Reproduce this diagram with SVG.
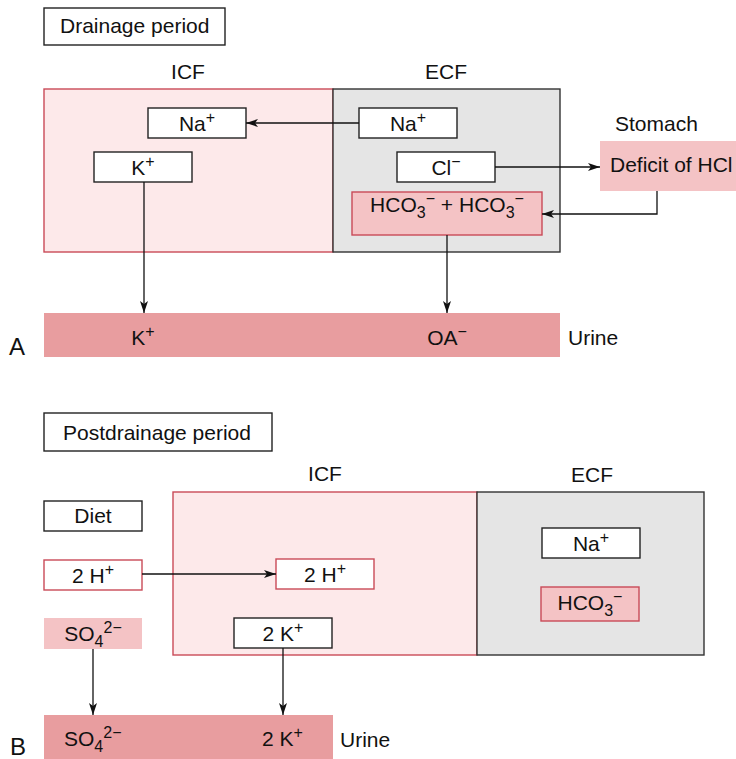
<svg xmlns="http://www.w3.org/2000/svg" width="736" height="759" viewBox="0 0 736 759">
<defs>
<style>
text{font-family:"Liberation Sans",Arial,Helvetica,sans-serif;font-size:21px;fill:#111}
.c{text-anchor:middle}
.big{font-size:24px}
.wb{fill:#fff;stroke:#222;stroke-width:1.4}
.rb{fill:#fff;stroke:#c94a58;stroke-width:1.4}
.pb{fill:#f4c3c5;stroke:#c94a58;stroke-width:1.4}
.pn{fill:#f4c3c5;stroke:none}
.icf{fill:#fde9ea;stroke:#c94a58;stroke-width:1.4}
.ecf{fill:#e5e5e5;stroke:#333;stroke-width:1.4}
.urine{fill:#e89d9f}
.ln{fill:none;stroke:#111;stroke-width:1.3;marker-end:url(#ah)}
.sp{font-size:16px}
</style>
<marker id="ah" markerUnits="userSpaceOnUse" markerWidth="13" markerHeight="9" refX="12" refY="4" orient="auto">
<path d="M0,0 L12,4 L0,8 L3,4 z" fill="#111"/>
</marker>
</defs>

<!-- Panel A -->
<g id="titleA"><rect class="wb" x="44" y="8" width="181" height="37"/><text x="60" y="33">Drainage period</text></g>
<g id="icfA"><rect class="icf" x="44" y="89" width="289" height="163"/><text class="c" x="188" y="79">ICF</text></g>
<g id="ecfA"><rect class="ecf" x="333" y="89" width="227" height="163"/><text class="c" x="446" y="79">ECF</text></g>
<g id="naIcfA"><rect class="wb" x="148" y="108" width="98" height="30"/><text class="c" x="197" y="131">Na<tspan class="sp" dy="-8">+</tspan></text></g>
<g id="kIcfA"><rect class="wb" x="94" y="152" width="98" height="30"/><text class="c" x="143" y="175">K<tspan class="sp" dy="-8">+</tspan></text></g>
<g id="naEcfA"><rect class="wb" x="359" y="108" width="98" height="30"/><text class="c" x="408" y="131">Na<tspan class="sp" dy="-8">+</tspan></text></g>
<g id="clEcfA"><rect class="wb" x="397" y="152" width="98" height="30"/><text class="c" x="446" y="175">Cl<tspan class="sp" dy="-8">−</tspan></text></g>
<g id="hco3A"><rect class="pb" x="352" y="192" width="190" height="43"/><text class="c" x="447" y="212">HCO<tspan class="sp" dy="6">3</tspan><tspan class="sp" dy="-14">−</tspan><tspan dy="8"> + HCO</tspan><tspan class="sp" dy="6">3</tspan><tspan class="sp" dy="-14">−</tspan></text></g>
<g id="stomach"><text x="615" y="131">Stomach</text><rect class="pn" x="600" y="141" width="136" height="50"/><text x="610" y="172">Deficit of HCl</text></g>
<g id="urineA"><rect class="urine" x="44" y="313" width="516" height="44"/><text class="c" x="143" y="345">K<tspan class="sp" dy="-8">+</tspan></text><text class="c" x="447" y="345">OA<tspan class="sp" dy="-8">−</tspan></text><text x="568" y="345">Urine</text></g>
<g id="labelA"><text class="big" x="9" y="355">A</text></g>

<!-- Panel B -->
<g id="titleB"><rect class="wb" x="44" y="413" width="228" height="38"/><text x="63" y="440">Postdrainage period</text></g>
<g id="icfB"><rect class="icf" x="173" y="492" width="304" height="163"/><text class="c" x="325" y="481">ICF</text></g>
<g id="ecfB"><rect class="ecf" x="477" y="492" width="227" height="163"/><text class="c" x="592" y="482">ECF</text></g>
<g id="diet"><rect class="wb" x="44" y="501" width="98" height="30"/><text class="c" x="93" y="523">Diet</text></g>
<g id="hDiet"><rect class="rb" x="44" y="560" width="98" height="30"/><text class="c" x="93" y="583">2 H<tspan class="sp" dy="-8">+</tspan></text></g>
<g id="hIcfB"><rect class="rb" x="276" y="559" width="98" height="30"/><text class="c" x="325" y="582">2 H<tspan class="sp" dy="-8">+</tspan></text></g>
<g id="so4Diet"><rect class="pn" x="44" y="618" width="98" height="31"/><text class="c" x="93" y="641">SO<tspan class="sp" dy="6">4</tspan><tspan class="sp" dy="-14">2−</tspan></text></g>
<g id="kIcfB"><rect class="wb" x="234" y="618" width="98" height="30"/><text class="c" x="283" y="641">2 K<tspan class="sp" dy="-8">+</tspan></text></g>
<g id="naEcfB"><rect class="wb" x="542" y="528" width="98" height="30"/><text class="c" x="591" y="551">Na<tspan class="sp" dy="-8">+</tspan></text></g>
<g id="hco3B"><rect class="pb" x="541" y="587" width="98" height="34"/><text class="c" x="590" y="610">HCO<tspan class="sp" dy="6">3</tspan><tspan class="sp" dy="-14">−</tspan></text></g>
<g id="urineB"><rect class="urine" x="44" y="715" width="289" height="44"/><text x="64" y="746">SO<tspan class="sp" dy="6">4</tspan><tspan class="sp" dy="-14">2−</tspan></text><text x="262" y="746">2 K<tspan class="sp" dy="-8">+</tspan></text><text x="340" y="747">Urine</text></g>
<g id="labelB"><text class="big" x="10" y="755">B</text></g>

<g id="connectors">
<line class="ln" x1="359" y1="123" x2="246" y2="123"/>
<line class="ln" x1="144" y1="182" x2="144" y2="313"/>
<line class="ln" x1="495" y1="167" x2="600" y2="167"/>
<polyline class="ln" points="657,191 657,214 542,214"/>
<line class="ln" x1="447" y1="235" x2="447" y2="313"/>
<line class="ln" x1="142" y1="574" x2="276" y2="574"/>
<line class="ln" x1="93" y1="649" x2="93" y2="715"/>
<line class="ln" x1="283" y1="648" x2="283" y2="715"/>
</g>
</svg>
